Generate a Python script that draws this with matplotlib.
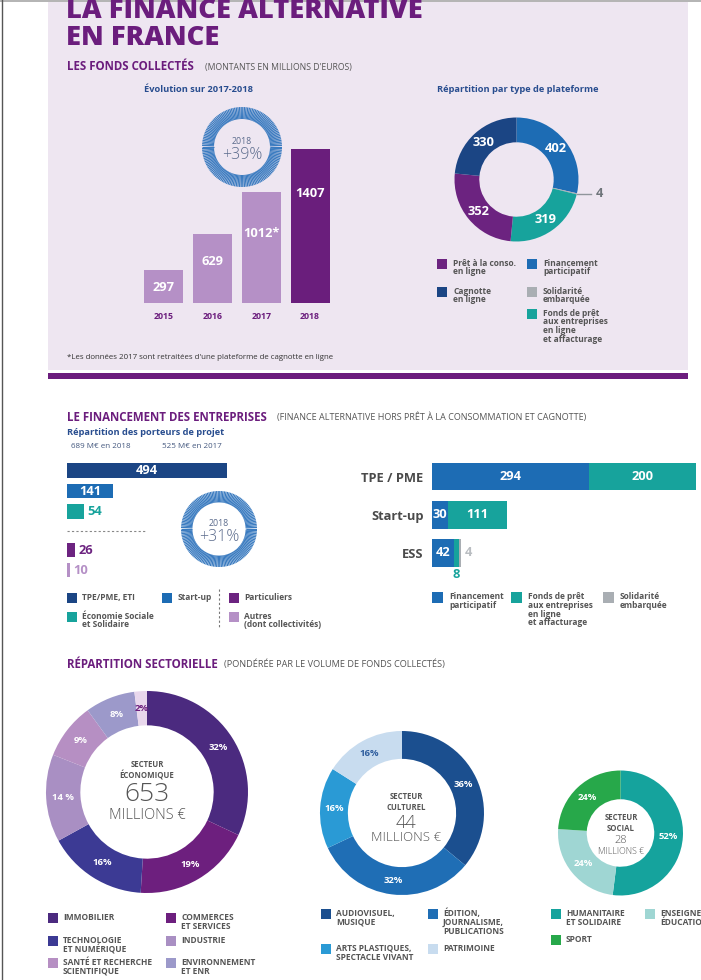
import numpy as np
import matplotlib.pyplot as plt
from matplotlib.patches import Rectangle
from matplotlib.collections import LineCollection

plt.rcParams['font.family'] = ['Open Sans', 'DejaVu Sans']

# ---- data ----
years = ['2015', '2016', '2017', '2018']
fonds = [297, 629, 1012, 1407]
fonds_labels = ['297', '629', '1012*', '1407']

plat_values = [402, 4, 319, 352, 330]   # clockwise from top
plat_names = ['Financement participatif', 'Solidarité embarquée',
              "Fonds de prêt aux entreprises", 'Prêt à la conso.', 'Cagnotte']

porteurs_ent = [494, 141, 54]           # TPE/PME-ETI, Start-up, ESS
porteurs_part = [26, 10]                # Particuliers, Autres

cats = ['TPE / PME', 'Start-up', 'ESS']
fin_part = [294, 30, 42]
fonds_pret = [200, 111, 8]
solidarite = [0, 0, 4]

eco_pct = [32, 19, 16, 14, 9, 8, 2]
eco_names = ['IMMOBILIER', 'COMMERCES\nET SERVICES', 'TECHNOLOGIE\nET NUMÉRIQUE',
             'INDUSTRIE', 'SANTÉ ET RECHERCHE\nSCIENTIFIQUE', 'ENVIRONNEMENT\nET ENR', 'AUTRES']
cult_pct = [36, 32, 16, 16]
cult_names = ['AUDIOVISUEL,\nMUSIQUE', 'ÉDITION,\nJOURNALISME,\nPUBLICATIONS',
              'ARTS PLASTIQUES,\nSPECTACLE VIVANT', 'PATRIMOINE']
soc_pct = [52, 24, 24]
soc_names = ['HUMANITAIRE\nET SOLIDAIRE', 'ENSEIGNEMENT,\nÉDUCATION', 'SPORT']

# ---- colours ----
TITLE = '#6b1d7d'
LAV = '#eee6f1'
HBLUE = '#284d8f'
NAVY = '#1b4584'
BLUE = '#1d6cb4'
TEAL = '#17a39c'
GRAY = '#a9aeb3'
PURP = '#6c2380'
LPURP = '#b590c6'
RING = '#3a7bc0'
TXT = '#555555'
eco_cols = ['#4b2a7f', '#6d1f7e', '#3c3a94', '#a98fc3', '#b68fc3', '#9c99ca', '#e8d7ec']
cult_cols = ['#1b4f8f', '#1f6eb5', '#2a9ad5', '#c8dcef']
soc_cols = ['#15a39d', '#9fd6d3', '#27a84a']

W, H = 701, 980
fig = plt.figure(figsize=(W / 100, H / 100), dpi=100)
bg = fig.add_axes([0, 0, 1, 1])
bg.set_xlim(0, W)
bg.set_ylim(H, 0)
bg.axis('off')


def px_axes(x0, y0, x1, y1):
    return fig.add_axes([x0 / W, 1 - y1 / H, (x1 - x0) / W, (y1 - y0) / H])


def item(x, y, c, label, sq=10, fs=6, dx=6, ls=0.95):
    bg.add_patch(Rectangle((x, y), sq, sq, color=c, lw=0))
    bg.text(x + sq + dx, y + sq / 2 - 0.62 * fs / 0.72, label, fontsize=fs, color=TXT,
            fontweight='bold', va='top', ha='left', linespacing=ls)


def badge(cx, cy, r, pct):
    ax = px_axes(cx - r, cy - r, cx + r, cy + r)
    ax.set_xlim(-1, 1)
    ax.set_ylim(-1, 1)
    ax.axis('off')
    th = np.linspace(0, 2 * np.pi, 150, endpoint=False)
    segs = [[(0.70 * np.cos(t), 0.70 * np.sin(t)), (np.cos(t), np.sin(t))] for t in th]
    ax.add_collection(LineCollection(segs, colors=RING, linewidths=0.9))
    ax.text(0, 0.14, '2018', ha='center', va='center', fontsize=6.3, color='#5b6b8c')
    ax.text(0, -0.2, pct, ha='center', va='center', fontsize=11.5,
            color='#5b6b8c', fontweight='light')


def donut(cx, cy, r, vals, cols, width, lab_cols, lab_fs=6.3, labels=None):
    ax = px_axes(cx - r, cy - r, cx + r, cy + r)
    wedges, _ = ax.pie(vals, colors=cols, startangle=90, counterclock=False,
                       wedgeprops=dict(width=width, linewidth=0))
    ax.set_xlim(-1, 1)
    ax.set_ylim(-1, 1)
    rm = 1 - width / 2
    for i, w in enumerate(wedges):
        if labels is not None and labels[i] is None:
            continue
        a = np.deg2rad((w.theta1 + w.theta2) / 2)
        txt = labels[i] if labels is not None else f'{vals[i]}%'
        ax.text(rm * np.cos(a), rm * np.sin(a), txt, ha='center', va='center',
                fontsize=lab_fs, fontweight='bold', color=lab_cols[i])
    return ax, wedges


# ---- page background ----
bg.add_patch(Rectangle((48, 0), 640, 370, color=LAV, lw=0))
bg.add_patch(Rectangle((48, 373), 640, 6, color=TITLE, lw=0))
bg.add_patch(Rectangle((0, 0), W, 2, color='#b5b5b5', lw=0))
bg.plot([1.5, 1.5], [0, H], color='#555555', lw=1)

bg.text(66, 18, 'LA FINANCE ALTERNATIVE', fontsize=19.6, fontweight='heavy',
        color=TITLE, va='baseline')
bg.text(66, 45, 'EN FRANCE', fontsize=19.6, fontweight='heavy', color=TITLE, va='baseline')

bg.text(67, 67, 'LES FONDS COLLECTÉS', fontsize=8.3, fontweight='bold', color=TITLE, va='center')
bg.text(205, 67.5, "(MONTANTS EN MILLIONS D'EUROS)", fontsize=6.2, color=TXT, va='center')
bg.text(198, 89, 'Évolution sur 2017-2018', fontsize=6.7, fontweight='bold',
        color=HBLUE, ha='center', va='center')
bg.text(518, 89, 'Répartition par type de plateforme', fontsize=6.7, fontweight='bold',
        color=HBLUE, ha='center', va='center')

# ---- bars 2015-2018 ----
ax1 = px_axes(139.6, 149, 334.4, 303)
ax1.bar(range(4), fonds, width=0.8, color=[LPURP, LPURP, LPURP, '#6a1e7c'])
ax1.set_xlim(-0.5, 3.5)
ax1.set_ylim(0, max(fonds))
for s in ax1.spines.values():
    s.set_visible(False)
ax1.set_yticks([])
ax1.set_xticks(range(4), years)
ax1.tick_params(axis='x', length=0, pad=6.5, labelsize=6.3, labelcolor=TITLE)
for t in ax1.get_xticklabels():
    t.set_fontweight('bold')
ax1.patch.set_alpha(0)
for i, (v, lab, off) in enumerate(zip(fonds, fonds_labels, [17, 27, 41, 44])):
    ax1.annotate(lab, (i, v), xytext=(0, -off * 0.72), textcoords='offset points',
                 ha='center', va='center', fontsize=9.3, fontweight='bold', color='white')
badge(242, 147, 40, '+39%')

# ---- platform donut ----
pax, pw = donut(516.5, 179.5, 62, plat_values, [BLUE, GRAY, TEAL, PURP, NAVY], 0.4,
                ['white'] * 5, lab_fs=9.3,
                labels=[str(v) if v > 10 else None for v in plat_values])
a = np.deg2rad((pw[1].theta1 + pw[1].theta2) / 2)
pax.plot([np.cos(a), 1.2], [np.sin(a), np.sin(a)], color='#8f959b', lw=1, clip_on=False)
pax.text(1.28, np.sin(a), str(plat_values[1]), fontsize=9.3, fontweight='bold',
         color='#6f757b', va='center', ha='left')

item(437, 259, PURP, 'Prêt à la conso.\nen ligne')
item(437, 287, NAVY, 'Cagnotte\nen ligne')
item(527, 259, BLUE, 'Financement\nparticipatif')
item(527, 287, GRAY, 'Solidarité\nembarquée')
item(527, 309, TEAL, 'Fonds de prêt\naux entreprises\nen ligne\net affacturage')

bg.text(67, 357, "*Les données 2017 sont retraitées d'une plateforme de cagnotte en ligne",
        fontsize=5.7, color='#333333', va='center')

# ---- financement des entreprises ----
bg.text(67, 417, 'LE FINANCEMENT DES ENTREPRISES', fontsize=8.3, fontweight='bold',
        color=TITLE, va='center')
bg.text(277, 417.5, '(FINANCE ALTERNATIVE HORS PRÊT À LA CONSOMMATION ET CAGNOTTE)',
        fontsize=6.5, color=TXT, va='center')
bg.text(67, 432, 'Répartition des porteurs de projet', fontsize=6.7, fontweight='bold',
        color=HBLUE, va='center')
bg.text(71, 446, '689 M€ en 2018', fontsize=5.8, color='#44587f', va='center')
bg.text(162, 446, '525 M€ en 2017', fontsize=5.8, color='#44587f', va='center')


def hbars(ax, vals, cols, n):
    ax.barh(range(n), vals, height=0.73, color=cols)
    ax.set_xlim(0, 494)
    ax.set_ylim(n - 0.5, -0.5)
    ax.axis('off')
    for i, v in enumerate(vals):
        if v > 100:
            ax.text(v / 2, i, str(v), ha='center', va='center', fontsize=9.3,
                    fontweight='bold', color='white')
        else:
            ax.annotate(str(v), (v, i), xytext=(2, 0), textcoords='offset points',
                        ha='left', va='center', fontsize=9.3, fontweight='bold', color=cols[i])


ax2 = px_axes(67, 460.25, 227, 521.75)
hbars(ax2, porteurs_ent, [NAVY, BLUE, TEAL], 3)
ax3 = px_axes(67, 540, 227, 580)
hbars(ax3, porteurs_part, [PURP, LPURP], 2)
bg.plot([67, 147], [531, 531], color='#888888', lw=0.8, ls=(0, (2, 2)))
badge(219, 529, 38, '+31%')

item(67, 593, NAVY, 'TPE/PME, ETI', sq=9.5)
item(162, 593, BLUE, 'Start-up', sq=9.5)
item(67, 612, TEAL, 'Économie Sociale\net Solidaire', sq=9.5)
item(229, 593, PURP, 'Particuliers', sq=9.5)
item(229, 612, LPURP, 'Autres\n(dont collectivités)', sq=9.5)
bg.plot([219, 219], [589, 628], color='#777777', lw=0.8, ls=(0, (2, 2)))

# stacked bars by platform
ax4 = px_axes(432, 457.4, 696, 572.1)
y = np.arange(len(cats))
ax4.barh(y, fin_part, height=0.73, color=BLUE)
ax4.barh(y, fonds_pret, height=0.73, left=fin_part, color=TEAL)
left2 = np.array(fin_part) + np.array(fonds_pret)
ax4.barh(y, solidarite, height=0.73, left=left2, color=GRAY)
ax4.set_xlim(0, 494)
ax4.set_ylim(2.5, -0.5)
for s in ax4.spines.values():
    s.set_visible(False)
ax4.set_xticks([])
ax4.set_yticks(y, cats)
ax4.tick_params(axis='y', length=0, pad=6, labelsize=9.3, labelcolor='#4a4a4a')
for t in ax4.get_yticklabels():
    t.set_fontweight('bold')
ax4.patch.set_alpha(0)
for i in range(len(cats)):
    ax4.text(fin_part[i] / 2, i, str(fin_part[i]), ha='center', va='center',
             fontsize=9.3, fontweight='bold', color='white')
    if fonds_pret[i] > 20:
        ax4.text(fin_part[i] + fonds_pret[i] / 2, i, str(fonds_pret[i]), ha='center',
                 va='center', fontsize=9.3, fontweight='bold', color='white')
    else:
        ax4.annotate(str(fonds_pret[i]), (fin_part[i] + fonds_pret[i] / 2, i + 0.365),
                     xytext=(0, -0.5), textcoords='offset points', ha='center', va='top',
                     fontsize=9.3, fontweight='bold', color=TEAL)
    if solidarite[i] > 0:
        ax4.annotate(str(solidarite[i]), (left2[i] + solidarite[i], i), xytext=(3, 0),
                     textcoords='offset points', ha='left', va='center', fontsize=9.3,
                     fontweight='bold', color='#b9bdc1')

item(432, 592, BLUE, 'Financement\nparticipatif', sq=11)
item(511, 592, TEAL, 'Fonds de prêt\naux entreprises\nen ligne\net affacturage', sq=11)
item(603, 592, GRAY, 'Solidarité\nembarquée', sq=11)

# ---- répartition sectorielle ----
bg.text(67, 664, 'RÉPARTITION SECTORIELLE', fontsize=8.3, fontweight='bold',
        color=TITLE, va='center')
bg.text(224, 664.5, '(PONDÉRÉE PAR LE VOLUME DE FONDS COLLECTÉS)', fontsize=6.6,
        color=TXT, va='center')

donut(147, 792, 101, eco_pct, eco_cols, 0.34,
      ['white'] * 6 + ['#6d1f7e'], lab_fs=6.8,
      labels=[f'{p}%' if p != 14 else '14 %' for p in eco_pct])
bg.text(147, 770, 'SECTEUR\nÉCONOMIQUE', fontsize=5.6, fontweight='bold', color=TXT,
        ha='center', va='center', linespacing=1.2)
bg.text(147, 794, '653', fontsize=19, fontweight='light', color=TXT, ha='center', va='center')
bg.text(147, 815, 'MILLIONS €', fontsize=10.5, fontweight='light', color=TXT,
        ha='center', va='center')

donut(402, 813, 82, cult_pct, cult_cols, 0.34,
      ['white', 'white', 'white', '#2f5e9e'], lab_fs=6.8)
bg.text(406, 802, 'SECTEUR\nCULTUREL', fontsize=5.6, fontweight='bold', color=TXT,
        ha='center', va='center', linespacing=1.2)
bg.text(406, 823, '44', fontsize=13, fontweight='light', color=TXT, ha='center', va='center')
bg.text(406, 837, 'MILLIONS €', fontsize=9.5, fontweight='light', color=TXT,
        ha='center', va='center')

donut(620.5, 833, 62.5, soc_pct, soc_cols, 0.46, ['white'] * 3, lab_fs=6.8)
bg.text(621, 823, 'SECTEUR\nSOCIAL', fontsize=5.6, fontweight='bold', color=TXT,
        ha='center', va='center', linespacing=1.2)
bg.text(621, 840.5, '28', fontsize=8, fontweight='light', color=TXT, ha='center', va='center')
bg.text(621, 851, 'MILLIONS €', fontsize=6.3, fontweight='light', color=TXT,
        ha='center', va='center')

# sector legends
eco_pos = [(48, 913), (166, 913), (48, 936), (166, 936), (48, 958), (166, 958)]
for (x, yy), c, n in zip(eco_pos, eco_cols, eco_names):
    item(x, yy, c, n, sq=10, fs=6, dx=5, ls=1.0)
cult_pos = [(321, 909), (428, 909), (321, 944), (428, 944)]
for (x, yy), c, n in zip(cult_pos, cult_cols, cult_names):
    item(x, yy, c, n, sq=10, fs=6, dx=5, ls=1.0)
soc_pos = [(551, 909), (645, 909), (551, 935)]
for (x, yy), c, n in zip(soc_pos, soc_cols, soc_names):
    item(x, yy, c, n, sq=10, fs=6, dx=5, ls=1.0)

fig.savefig('out.png', dpi=100)
